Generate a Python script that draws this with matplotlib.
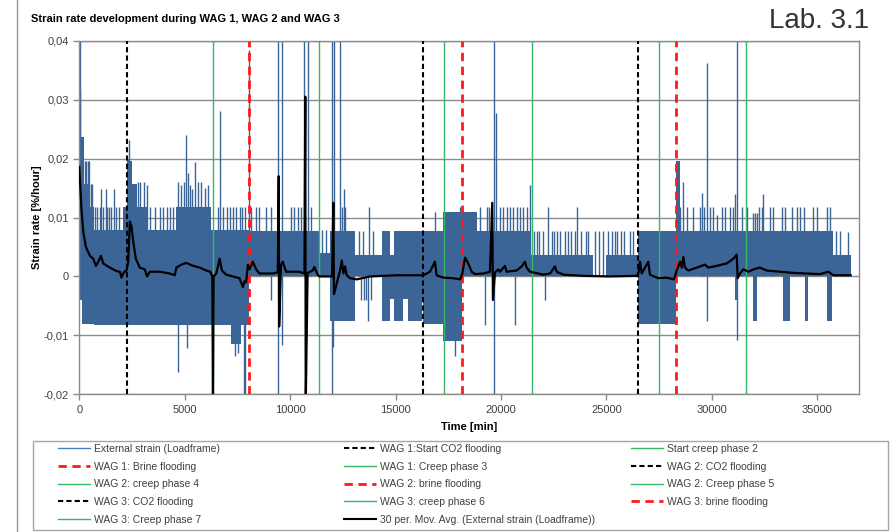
import matplotlib.pyplot as plt
from matplotlib.lines import Line2D
from matplotlib.patches import Rectangle
from matplotlib.ticker import FuncFormatter, MultipleLocator

plt.rcParams['font.family'] = ['Liberation Sans Narrow', 'Liberation Sans', 'DejaVu Sans']

# Flooding / creep events [min]
wag_co2 = [2250, 16320, 26520]
wag_brine = [8050, 18170, 28320]
creep_start = [6330, 11390, 17290, 21480, 27490, 31610]

# Dense part of the loadframe strain rate: start, end, upper, lower
band_t0 = [0, 130, 200, 500, 700, 2080, 2240, 2520, 2740, 3200, 4570, 6260, 7200, 7680,
           8050, 11390, 11900, 13080, 14360, 14740, 14945, 15370, 15610, 16240, 16320, 17270,
           18170, 18850, 21380, 22960, 25000, 26520, 28320, 28500, 32600, 35770]
band_t1 = [130, 200, 500, 700, 2080, 2240, 2520, 2740, 3200, 4570, 6260, 7200, 7680, 8050,
           11390, 11900, 13080, 14360, 14740, 14945, 15370, 15610, 16240, 16320, 17270, 18170,
           18850, 21380, 22960, 24380, 26520, 28320, 28500, 32600, 35770, 36590]
band_hi = [0.0236, 0.0236, 0.0157, 0.0117, 0.0079, 0.0117, 0.0196, 0.0157, 0.0117, 0.0079,
           0.0117, 0.0079, 0.0079, 0.0079, 0.0077, 0.0039, 0.0077, 0.0037, 0.0077, 0.0037,
           0.0077, 0.0077, 0.0077, 0.0077, 0.0077, 0.0110, 0.0110, 0.0077, 0.0037, 0.0037,
           0.0037, 0.0077, 0.0196, 0.0077, 0.0077, 0.0037]
band_lo = [-0.0040, -0.0080, -0.0080, -0.0080, -0.0082, -0.0082, -0.0082, -0.0082, -0.0082,
           -0.0082, -0.0082, -0.0082, -0.0115, -0.0082, 0.0, 0.0, -0.0075, 0.0, -0.0075,
           -0.0039, -0.0075, -0.0039, -0.0075, -0.0039, -0.0080, -0.0110, 0.0, 0.0, 0.0, 0.0,
           0.0, -0.0080, 0.0, 0.0, 0.0, 0.0]

# Short negative excursions in the later creep phases
dip_t0 = [29760, 31100, 31980, 33400, 34420, 35450]
dip_t1 = [29830, 31260, 32130, 33710, 34580, 35690]
dip_lo = [-0.0075, -0.0040, -0.0075, -0.0075, -0.0075, -0.0075]

# Single readings above the dense band
spike_up_t = [30, 45, 260, 330, 400, 470, 560, 620,
              760, 850, 960, 1040, 1110, 1245, 1330, 1420,
              1500, 1640, 1760, 1900, 2300, 2365, 2800, 2900,
              3050, 3220, 3340, 3600, 3830, 3950, 4150, 4300,
              4450, 4680, 4840, 4950, 5080, 5160, 5270, 5350,
              5470, 5630, 5790, 5945, 6100, 6600, 6655, 6800,
              7000, 7130, 7285, 7440, 7600, 7730, 7860, 8030,
              8140, 8390, 8545, 8860, 9100, 9415, 9620, 10040,
              10200, 10360, 10520, 10680, 10830, 10990, 11500, 11700,
              11990, 12080, 12370, 12445, 12557, 12610, 13285, 13475,
              13760, 13917, 16870, 18050, 18150, 19008, 19324, 19450,
              19650, 19750, 19956, 20114, 20304, 20430, 20589, 20747,
              20905, 21063, 21221, 21360, 21569, 21695, 21822, 22011,
              22249, 22407, 22517, 22644, 22802, 23039, 23197, 23308,
              23513, 23624, 23782, 24035, 24146, 24462, 24667, 24850,
              25094, 25255, 25413, 25524, 25682, 25840, 26125, 26283,
              28500, 28655, 28845, 29130, 29445, 29520, 29635, 29790,
              29920, 30080, 30235, 30470, 30630, 30870, 31025, 31120,
              31185, 31420, 31660, 31975, 32055, 32130, 32260, 32370,
              32450, 32765, 32925, 33320, 33475, 33790, 34030, 34190,
              34380, 34820, 34980, 35455, 35610, 35900, 36100, 36480]
spike_up_v = [0.0400, 0.0315, 0.0196, 0.0196, 0.0196, 0.0196, 0.0157, 0.0157,
              0.0117, 0.0117, 0.0117, 0.0148, 0.0117, 0.0148, 0.0117, 0.0117,
              0.0117, 0.0148, 0.0117, 0.0117, 0.0200, 0.0232, 0.0160, 0.0160,
              0.0160, 0.0155, 0.0117, 0.0117, 0.0117, 0.0117, 0.0117, 0.0117,
              0.0117, 0.0160, 0.0155, 0.0160, 0.0240, 0.0175, 0.0155, 0.0148,
              0.0195, 0.0160, 0.0160, 0.0150, 0.0155, 0.0117, 0.0280, 0.0117,
              0.0117, 0.0117, 0.0117, 0.0117, 0.0117, 0.0117, 0.0117, 0.0385,
              0.0117, 0.0117, 0.0117, 0.0117, 0.0117, 0.0400, 0.0400, 0.0117,
              0.0117, 0.0117, 0.0117, 0.0400, 0.0400, 0.0117, 0.0079, 0.0079,
              0.0400, 0.0400, 0.0400, 0.0117, 0.0148, 0.0117, 0.0077, 0.0077,
              0.0117, 0.0077, 0.0110, 0.0117, 0.0117, 0.0117, 0.0117, 0.0117,
              0.0400, 0.0278, 0.0117, 0.0117, 0.0117, 0.0117, 0.0117, 0.0117,
              0.0117, 0.0117, 0.0117, 0.0155, 0.0077, 0.0077, 0.0077, 0.0077,
              0.0117, 0.0077, 0.0077, 0.0077, 0.0077, 0.0077, 0.0077, 0.0077,
              0.0077, 0.0117, 0.0077, 0.0077, 0.0077, 0.0077, 0.0077, 0.0077,
              0.0077, 0.0077, 0.0077, 0.0077, 0.0077, 0.0077, 0.0077, 0.0077,
              0.0117, 0.0160, 0.0117, 0.0117, 0.0117, 0.0141, 0.0117, 0.0362,
              0.0117, 0.0117, 0.0105, 0.0117, 0.0117, 0.0117, 0.0117, 0.0140,
              0.0400, 0.0117, 0.0117, 0.0107, 0.0107, 0.0107, 0.0117, 0.0117,
              0.0140, 0.0117, 0.0117, 0.0117, 0.0117, 0.0117, 0.0117, 0.0117,
              0.0117, 0.0117, 0.0117, 0.0117, 0.0117, 0.0077, 0.0077, 0.0075]

# Single readings below the dense band
spike_dn_t = [4680, 5110, 7365, 7540, 7800, 7870, 9100, 9415,
              9620, 11990, 12050, 13380, 13500, 13620, 13700, 13850,
              17820, 19250, 19650, 20670, 22090, 29790, 31185]
spike_dn_v = [-0.0162, -0.0122, -0.0135, -0.0130, -0.0200, -0.0200, -0.0040, -0.0200,
              -0.0116, -0.0200, -0.0120, -0.0040, -0.0040, -0.0040, -0.0075, -0.0040,
              -0.0135, -0.0082, -0.0200, -0.0083, -0.0040, -0.0075, -0.0108]

# 30 period moving average of the loadframe strain rate
avg_t = [0, 63, 110, 190, 315, 505, 660, 790, 900, 1025, 1135, 1450, 1765, 1925, 2000, 2110,
         2240, 2320, 2400, 2475, 2555, 2680, 2870, 3105, 3215, 3345, 3815, 4290, 4525, 4605,
         4840, 5080, 5395, 5710, 6025, 6215, 6310, 6340, 6370, 6500, 6655, 6765, 6970, 7285,
         7600, 7760, 7840, 7915, 7995, 8075, 8230, 8390, 8545, 9180, 9415, 9460, 9480, 9570,
         9650, 9810, 10440, 10680, 10720, 10740, 10830, 11070, 11150, 11310, 11390, 11990,
         12050, 12080, 12370, 12450, 12530, 12605, 12685, 12840, 13160, 13790, 15055, 16320,
         16635, 16870, 16950, 17270, 17740, 18060, 18170, 18300, 18410, 18500, 18610, 18770,
         19165, 19480, 19590, 19620, 19720, 19880, 19955, 20190, 20270, 20745, 20985, 21140,
         21220, 21380, 22010, 22330, 22565, 22640, 22960, 23910, 25170, 26440, 26520, 26600,
         26680, 26990, 27070, 27470, 27860, 28210, 28340, 28500, 28580, 28655, 28730, 28890,
         29290, 29680, 29840, 30235, 30710, 31025, 31185, 31230, 31340, 31500, 31740, 31975,
         32290, 32610, 33240, 33870, 34505, 35135, 35530, 35770, 36590]
avg_v = [0.0186, 0.0141, 0.0110, 0.0075, 0.0050, 0.0035, 0.0030, 0.0018, 0.0025, 0.0035,
         0.0022, 0.0015, 0.0009, 0.0008, -0.0002, 0.0007, 0.0010, 0.0025, 0.0093, 0.0085,
         0.0060, 0.0030, 0.0015, 0.0012, 0.0000, 0.0008, 0.0008, 0.0005, 0.0002, 0.0015,
         0.0020, 0.0023, 0.0018, 0.0015, 0.0010, 0.0008, 0.0000, -0.0220, 0.0000, 0.0005,
         0.0030, 0.0010, 0.0003, 0.0000, -0.0003, -0.0018, -0.0008, -0.0010, 0.0020, 0.0012,
         0.0025, 0.0012, 0.0005, 0.0005, 0.0007, 0.0170, -0.0085, 0.0020, 0.0025, 0.0008,
         0.0008, 0.0005, 0.0305, -0.0220, 0.0006, 0.0010, 0.0016, 0.0003, 0.0000, 0.0000,
         0.0125, -0.0030, 0.0010, 0.0027, 0.0005, 0.0017, 0.0002, -0.0003, -0.0005, 0.0000,
         0.0002, 0.0002, 0.0008, 0.0025, 0.0002, -0.0002, -0.0003, -0.0005, 0.0005, 0.0032,
         0.0025, 0.0018, 0.0008, 0.0004, 0.0005, 0.0008, 0.0125, -0.0040, 0.0007, 0.0012,
         0.0008, 0.0018, 0.0008, 0.0010, 0.0017, 0.0025, 0.0015, 0.0008, 0.0003, 0.0005,
         0.0017, 0.0008, 0.0003, 0.0001, 0.0000, 0.0001, 0.0005, 0.0025, 0.0005, 0.0025,
         0.0003, -0.0003, -0.0002, -0.0005, 0.0010, 0.0025, 0.0015, 0.0033, 0.0015, 0.0010,
         0.0015, 0.0020, 0.0015, 0.0018, 0.0022, 0.0030, 0.0037, -0.0003, 0.0005, 0.0012,
         0.0008, 0.0012, 0.0015, 0.0010, 0.0008, 0.0006, 0.0005, 0.0004, 0.0008, 0.0002,
         0.0002]

legend_labels = [
    'External strain (Loadframe)', 'WAG 1:Start CO2 flooding', 'Start creep phase 2',
    'WAG 1: Brine flooding', 'WAG 1: Creep phase 3', 'WAG 2: CO2 flooding',
    'WAG 2: creep phase 4', 'WAG 2: brine flooding', 'WAG 2: Creep phase 5',
    'WAG 3: CO2 flooding', 'WAG 3: creep phase 6', 'WAG 3: brine flooding',
    'WAG 3: Creep phase 7', '30 per. Mov. Avg. (External strain (Loadframe))',
]

blue = '#3b6597'
green = '#33b966'
red = '#ff1a1a'
grey = '#8c8c8c'
co2_style = dict(color='black', lw=1.5, ls=(0, (2.5, 1.5)))
brine_style = dict(color=red, lw=2.0, ls=(0, (3, 2)))
creep_style = dict(color=green, lw=1.0)

fig = plt.figure(figsize=(8.9, 5.32), dpi=100)
ax = fig.add_axes([0.0891, 0.2588, 0.8764, 0.6647])

# loadframe strain rate
for t0, t1, hi, lo in zip(band_t0, band_t1, band_hi, band_lo):
    ax.fill_between([t0, t1], [lo, lo], [hi, hi], color=blue, lw=0, zorder=2)
for t0, t1, lo in zip(dip_t0, dip_t1, dip_lo):
    ax.fill_between([t0, t1], [lo, lo], [0, 0], color=blue, lw=0, zorder=2)
ax.vlines(spike_up_t, 0, spike_up_v, color=blue, lw=1.0, zorder=2)
ax.vlines(spike_dn_t, 0, spike_dn_v, color=blue, lw=1.0, zorder=2)

# event markers
ax.vlines(wag_co2, -0.02, 0.04, color='black', lw=1.5, linestyles=(0, (2.5, 1.5)), zorder=3)
ax.vlines(creep_start, -0.02, 0.04, color=green, lw=1.0, zorder=3)
ax.vlines(wag_brine, -0.02, 0.04, color=red, lw=2.0, linestyles=(0, (3, 2)), zorder=3)

# moving average on top
ax.plot(avg_t, avg_v, color='black', lw=1.6, zorder=4)

ax.set_xlim(0, 37000)
ax.set_ylim(-0.02, 0.04)
ax.xaxis.set_major_locator(MultipleLocator(5000))
ax.yaxis.set_major_locator(MultipleLocator(0.01))
ax.yaxis.set_major_formatter(FuncFormatter(
    lambda v, p: '0' if abs(v) < 1e-9 else f'{v:.2f}'.replace('.', ',')))
ax.grid(axis='y', color=grey, lw=1.0, zorder=1)
for s in ax.spines.values():
    s.set_color(grey)
    s.set_linewidth(1.0)
ax.tick_params(colors=grey, labelcolor='#404040', labelsize=8, length=4, width=1)

ax.set_xlabel('Time [min]', fontsize=8, fontweight='bold', labelpad=5)
ax.set_ylabel('Strain rate [%/hour]', fontsize=8, fontweight='bold', labelpad=1)

fig.text(31 / 890, 1 - 19 / 532, 'Strain rate development during WAG 1, WAG 2 and WAG 3',
         fontsize=8, fontweight='bold', va='center')
fig.text(869 / 890, 1 - 21 / 532, 'Lab. 3.1', fontsize=20, color='#333333',
         ha='right', va='center')

# thin page border on the left
fig.add_artist(Line2D([17 / 890, 17 / 890], [0, 1], color='#999999', lw=1.0))

# legend: three columns inside one grey box
fig.add_artist(Rectangle((33 / 890, 2 / 532), 855 / 890, 89 / 532, transform=fig.transFigure,
                         fill=False, edgecolor='#a6a6a6', lw=1.0))
handles = [
    Line2D([], [], color='#4f7fbf', lw=1.0), Line2D([], [], **co2_style),
    Line2D([], [], **creep_style),
    Line2D([], [], **brine_style), Line2D([], [], **creep_style), Line2D([], [], **co2_style),
    Line2D([], [], **creep_style), Line2D([], [], **brine_style), Line2D([], [], **creep_style),
    Line2D([], [], **co2_style), Line2D([], [], **creep_style), Line2D([], [], **brine_style),
    Line2D([], [], **creep_style), Line2D([], [], color='black', lw=1.5),
]
col_x = [58 / 890, 344 / 890, 631 / 890]
for c in range(3):
    leg = fig.legend(handles[c::3], legend_labels[c::3], loc='upper left',
                     bbox_to_anchor=(col_x[c], 1 - 444 / 532), fontsize=7.5, frameon=False,
                     handlelength=3.1, handletextpad=0.35, labelspacing=0.74,
                     borderpad=0, borderaxespad=0)
    for txt in leg.get_texts():
        txt.set_color('#404040')

fig.savefig('out.png', dpi=100)
